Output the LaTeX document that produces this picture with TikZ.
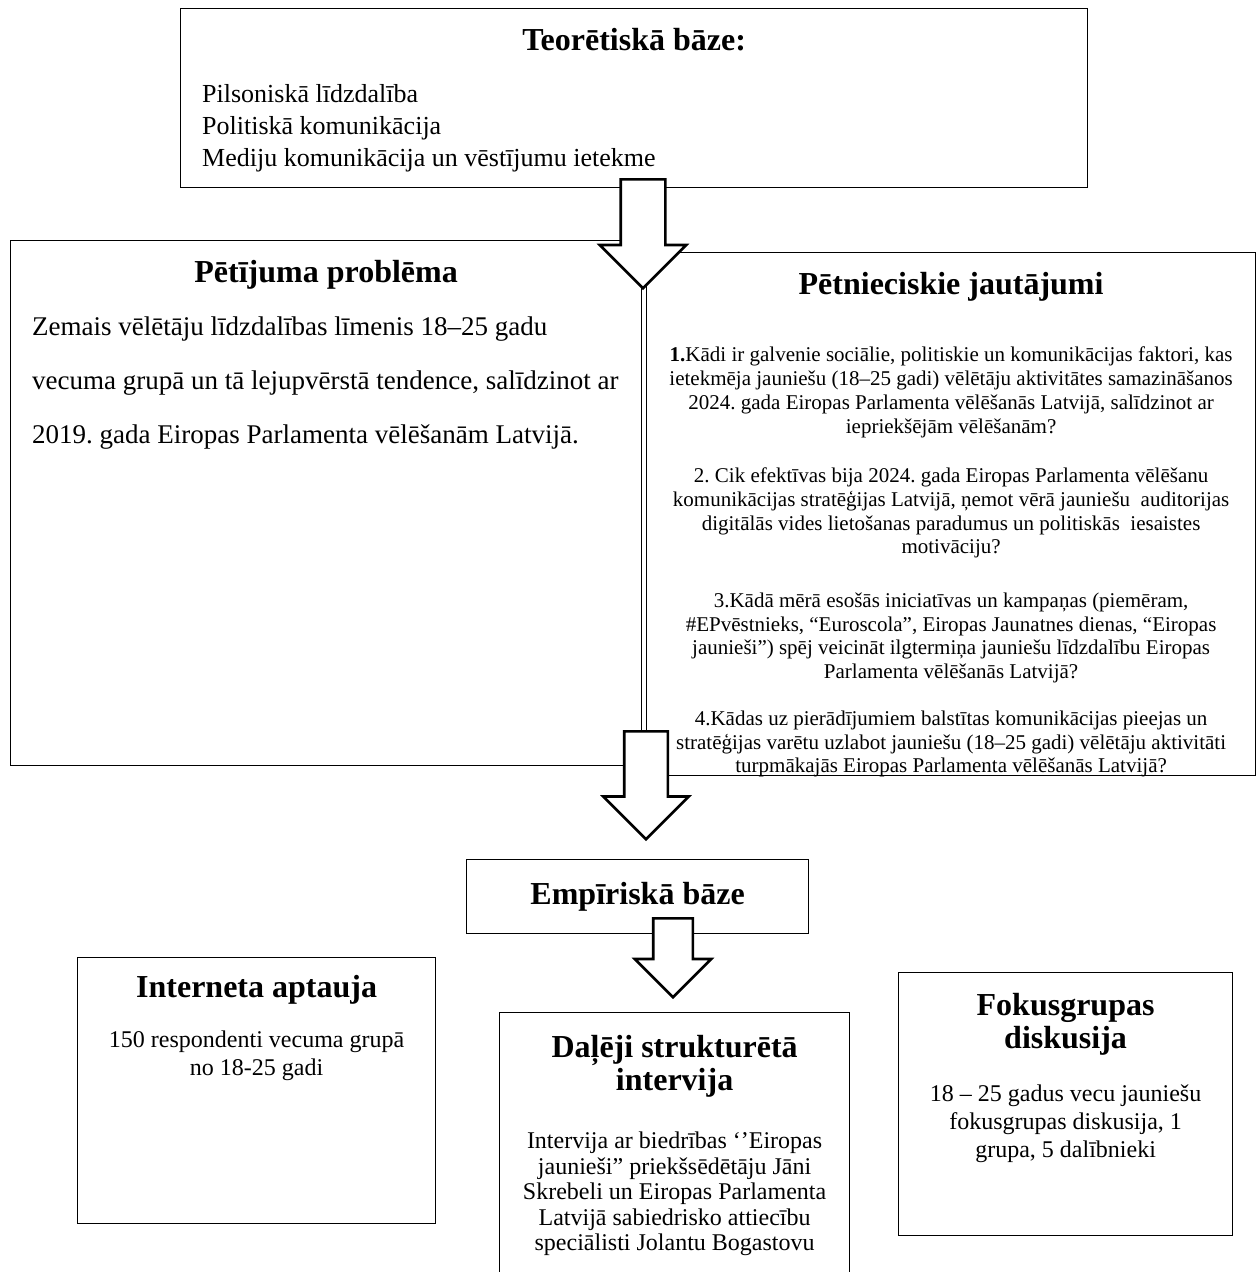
\documentclass[tikz,border=0pt]{standalone}
\usepackage{fontspec}
\setmainfont{Liberation Serif}
\usetikzlibrary{
  positioning,
  shapes.arrows
}
\frenchspacing
\tikzset{
  panel/.style={draw,line width=1.2pt,fill=white,inner sep=0pt,anchor=north west},
  headtext/.style={inner sep=0pt,align=center,font=\fontsize{32}{33}\selectfont\bfseries},
  listtext/.style={inner sep=0pt,align=left,anchor=north west,font=\fontsize{26}{32}\selectfont},
  problemtext/.style={inner sep=0pt,align=left,anchor=north west,font=\fontsize{27}{54}\selectfont},
  questiontext/.style={inner sep=0pt,align=center,font=\fontsize{21}{23.7}\selectfont},
  methodtext/.style={inner sep=0pt,align=center,font=\fontsize{24}{25}\selectfont},
  blockarrow/.style={single arrow,draw,fill=white,line width=2.6pt,rotate=-90,anchor=tail,inner xsep=0pt,single arrow tip angle=90}
}

\begin{document}
\begin{tikzpicture}[x=1pt,y=-1pt]
\path[use as bounding box] (0,0) rectangle (1256,1272);
\clip (0,0) rectangle (1256,1272);

% theory
\node[panel,minimum width=907pt,minimum height=179pt] (teor) at (180,8) {};
\node[headtext,below=20pt of teor.north] (teortitle) {Teorētiskā bāze:};
\node[listtext,below right=76pt and 22pt of teor.north west] (teorlist) {Pilsoniskā līdzdalība\\Politiskā komunikācija\\Mediju komunikācija un vēstījumu ietekme};

% problem and questions
\node[panel,minimum width=631pt,minimum height=525pt] (probl) at (10,240) {};
\node[headtext,below=20pt of probl.north] (probltitle) {Pētījuma problēma};
\node[problemtext,below right=77pt and 22pt of probl.north west] (probltext) {Zemais vēlētāju līdzdalības līmenis 18–25 gadu\\vecuma grupā un tā lejupvērstā tendence, salīdzinot ar\\2019. gada Eiropas Parlamenta vēlēšanām Latvijā.};

\node[panel,minimum width=609pt,minimum height=523pt] (jaut) at (646,252) {};
\node[headtext,below=20pt of jaut.north] (jauttitle) {Pētnieciskie jautājumi};
\node[questiontext,below=95pt of jaut.north] (jauttext) {\textbf{1.}Kādi ir galvenie sociālie, politiskie un komunikācijas faktori, kas\\
ietekmēja jauniešu (18–25 gadi) vēlētāju aktivitātes samazināšanos\\
2024. gada Eiropas Parlamenta vēlēšanās Latvijā, salīdzinot ar\\
iepriekšējām vēlēšanām?\\[26pt]
2. Cik efektīvas bija 2024. gada Eiropas Parlamenta vēlēšanu\\
komunikācijas stratēģijas Latvijā, ņemot vērā jauniešu\ \ auditorijas\\
digitālās vides lietošanas paradumus un politiskās\ \ iesaistes\\
motivāciju?\\[30pt]
3.Kādā mērā esošās iniciatīvas un kampaņas (piemēram,\\
\#EPvēstnieks, “Euroscola”, Eiropas Jaunatnes dienas, “Eiropas\\
jaunieši”) spēj veicināt ilgtermiņa jauniešu līdzdalību Eiropas\\
Parlamenta vēlēšanās Latvijā?\\[23pt]
4.Kādas uz pierādījumiem balstītas komunikācijas pieejas un\\
stratēģijas varētu uzlabot jauniešu (18–25 gadi) vēlētāju aktivitāti\\
turpmākajās Eiropas Parlamenta vēlēšanās Latvijā?};

% empirical part
\node[panel,minimum width=342pt,minimum height=74pt,font=\fontsize{32}{33}\selectfont\bfseries] (emp) at (466,859) {Empīriskā bāze};

\node[panel,minimum width=358pt,minimum height=266pt] (aptauja) at (77,957) {};
\node[headtext,below=18pt of aptauja.north] (aptaujatitle) {Interneta aptauja};
\node[methodtext,below=74pt of aptauja.north] (aptaujatext) {150 respondenti vecuma grupā\\[3pt]no 18-25 gadi};

\node[panel,minimum width=350pt,minimum height=300pt] (interv) at (499,1012) {};
\node[headtext,below=23pt of interv.north] (intervtitle) {Daļēji strukturētā\\intervija};
\node[methodtext,below=120pt of interv.north] (intervtext) {Intervija ar biedrības ‘’Eiropas\\[0.5pt]jaunieši” priekšsēdētāju Jāni\\[0.5pt]Skrebeli un Eiropas Parlamenta\\[0.5pt]Latvijā sabiedrisko attiecību\\[0.5pt]speciālisti Jolantu Bogastovu};

\node[panel,minimum width=334pt,minimum height=263pt] (fokus) at (898,972) {};
\node[headtext,below=21pt of fokus.north] (fokustitle) {Fokusgrupas\\diskusija};
\node[methodtext,below=113pt of fokus.north] (fokustext) {18 – 25 gadus vecu jauniešu\\[3pt]fokusgrupas diskusija, 1\\[3pt]grupa, 5 dalībnieki};

% block arrows
\node[blockarrow,inner ysep=21pt,single arrow head extend=21pt,minimum height=109pt] (arrtheory) at (643,178) {};
\node[blockarrow,inner ysep=20.5pt,single arrow head extend=21pt,minimum height=108pt] (arrquest) at (646,730) {};
\node[blockarrow,inner ysep=18.5pt,single arrow head extend=18.5pt,minimum height=79pt] (arrmethod) at (673,917) {};
\end{tikzpicture}
\end{document}
